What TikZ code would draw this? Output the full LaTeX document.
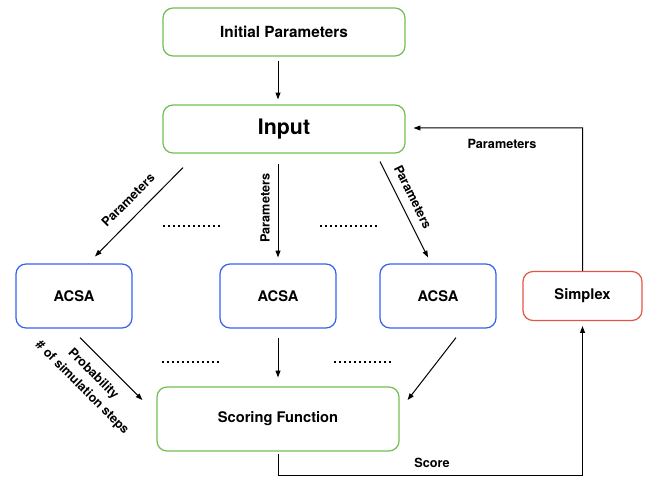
\documentclass[tikz,border=0pt]{standalone}
\usepackage{fontspec}
\setmainfont{TeX Gyre Heros}
\usetikzlibrary{arrows.meta,calc}
\definecolor{gbox}{RGB}{112,190,80}
\definecolor{bbox}{RGB}{55,95,245}
\definecolor{rbox}{RGB}{228,85,72}
\begin{document}
\begin{tikzpicture}[x=0.75pt,y=-0.75pt,
  box/.style={draw,rounded corners=7.5pt,line width=0.9pt,inner sep=0pt,align=center,
    font=\bfseries\fontsize{11}{13}\selectfont},
  wide/.style={box,draw=gbox,minimum width=181.5pt,minimum height=36pt},
  acsa/.style={box,draw=bbox,minimum width=87pt,minimum height=48pt},
  arr/.style={-{Triangle[length=5pt,width=3.6pt]},line width=0.75pt},
  lbl/.style={font=\bfseries\fontsize{9.5}{11}\selectfont,inner sep=0pt},
  dotrow/.style={line width=1.5pt,dash pattern=on 1.3pt off 2.45pt}]
\useasboundingbox (0,0) rectangle (650,479);

\node[wide,font=\bfseries\fontsize{11.5}{13}\selectfont] (init) at (284,32) {Initial Parameters};
\node[wide,font=\bfseries\fontsize{16}{18}\selectfont] (in) at (284,129) {Input};
\node[acsa] (a1) at (74,296) {ACSA};
\node[acsa] (a2) at (278,296) {ACSA};
\node[acsa] (a3) at (438,296) {ACSA};
\node[box,draw=rbox,minimum width=89.25pt,minimum height=36.75pt] (sx) at (582.5,296) {Simplex};
\node[wide,minimum height=48pt] (sf) at (278,419) {Scoring Function};

% arrows from top
\draw[arr] ($(init.south)+(-6,4)$) -- ($(in.north)+(-6,-5)$);
\draw[arr] ($(in.south)+(-101,14)$) -- ($(a1.north)+(21,-7)$);
\draw[arr] ($(in.south)+(-6,10)$) -- ($(a2.north)+(0,-6)$);
\draw[arr] ($(in.south)+(96,8)$) -- ($(a3.north)+(-10,-6)$);

% arrows to scoring function
\draw[arr] ($(a1.south)+(6,9)$) -- ($(sf.west)+(-14,-19)$);
\draw[arr] ($(a2.south)+(0,9)$) -- ($(sf.north)+(0,-9)$);
\draw[arr] ($(a3.south)+(18,9)$) -- ($(sf.east)+(8,-19)$);

% feedback loop
\coordinate (c1) at ($(sf.south)+(0,24)$);
\draw[arr] ($(sf.south)+(0,2)$) -- (c1) -| ($(sx.south)+(0,5)$);
\coordinate (c2) at ($(sx.north)+(0,-143)$);
\draw[arr] (sx.north) -- (c2) -- ($(in.east)+(8,-1)$);

% labels
\node[lbl,rotate=45] (p1) at (128,200) {Parameters};
\node[lbl,rotate=90] (p2) at (265,208) {Parameters};
\node[lbl,rotate=-63.7] (p3) at (413,197) {Parameters};
\node[lbl] (p4) at (502,144) {Parameters};
\node[lbl,rotate=-45] (pr) at (93,374) {Probability};
\node[lbl,rotate=-45] (ns) at (82,388) {\# of simulation steps};
\node[lbl] (sc) at (432,463) {Score};

% dots
\coordinate (d1a) at (163,226); \coordinate (d1b) at (221,226);
\coordinate (d2a) at (320,226); \coordinate (d2b) at (378,226);
\coordinate (d3a) at (162,362); \coordinate (d3b) at (220,362);
\coordinate (d4a) at (334,362); \coordinate (d4b) at (392,362);
\draw[dotrow] (d1a) -- (d1b);
\draw[dotrow] (d2a) -- (d2b);
\draw[dotrow] (d3a) -- (d3b);
\draw[dotrow] (d4a) -- (d4b);
\end{tikzpicture}
\end{document}
